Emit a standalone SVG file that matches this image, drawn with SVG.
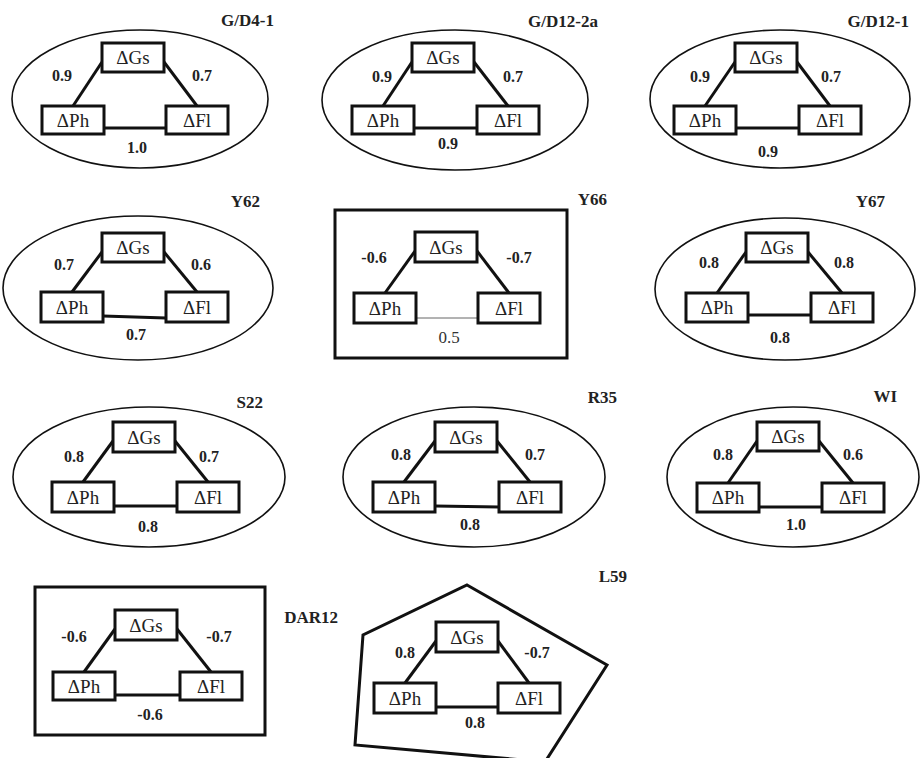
<svg xmlns="http://www.w3.org/2000/svg" width="921" height="758" viewBox="0 0 921 758">
<style>
.bg{fill:#fff}
.ring{fill:none;stroke:#111;stroke-width:1.6}
.frame{fill:none;stroke:#111;stroke-width:3}
.box{fill:#fff;stroke:#111;stroke-width:3}
.bt{font-family:"Liberation Serif",serif;font-size:19px;fill:#222;text-anchor:middle}
.ttl{font-family:"Liberation Serif",serif;font-size:17px;font-weight:bold;fill:#222;text-anchor:end}
.lb{font-family:"Liberation Serif",serif;font-size:16px;font-weight:bold;fill:#222;text-anchor:middle}
.lbn{font-family:"Liberation Serif",serif;font-size:17px;fill:#333;text-anchor:middle}
.e{stroke:#111;stroke-width:3;fill:none}
.thin{stroke:#666;stroke-width:1;fill:none}
</style>
<rect class="bg" x="0" y="0" width="921" height="758"/>

<g id="outlines">
<ellipse class="ring" cx="140" cy="99" rx="128" ry="69"/>
<ellipse class="ring" cx="455" cy="100" rx="133" ry="70"/>
<ellipse class="ring" cx="780" cy="99" rx="130" ry="69"/>
<ellipse class="ring" cx="138" cy="288" rx="135" ry="72"/>
<rect class="frame" x="335" y="210" width="232" height="148"/>
<ellipse class="ring" cx="785" cy="289" rx="130" ry="71"/>
<ellipse class="ring" cx="149" cy="477" rx="136" ry="70"/>
<ellipse class="ring" cx="474" cy="477" rx="131" ry="70"/>
<ellipse class="ring" cx="793" cy="477" rx="126" ry="70"/>
<rect class="frame" x="35" y="587" width="230" height="148"/>
<polygon class="frame" points="467,585 607,665 545,762 355,745 363,635"/>
</g>

<g id="connectors">
<line class="e" x1="102" y1="62" x2="73" y2="106"/><line class="e" x1="164" y1="62" x2="197" y2="106"/><line class="e" x1="104" y1="128" x2="166" y2="128"/>
<line class="e" x1="412" y1="62" x2="383" y2="106"/><line class="e" x1="474" y1="62" x2="508" y2="106"/><line class="e" x1="414" y1="128" x2="477" y2="128"/>
<line class="e" x1="735" y1="62" x2="705" y2="106"/><line class="e" x1="797" y1="62" x2="830" y2="106"/><line class="e" x1="736" y1="128" x2="799" y2="128"/>
<line class="e" x1="102" y1="252" x2="72" y2="292"/><line class="e" x1="164" y1="252" x2="197" y2="292"/><line class="e" x1="103" y1="316" x2="166" y2="318"/>
<line class="e" x1="415" y1="251" x2="385" y2="293"/><line class="e" x1="477" y1="251" x2="509" y2="293"/><line class="thin" x1="416" y1="318" x2="478" y2="318"/>
<line class="e" x1="746" y1="252" x2="717" y2="293"/><line class="e" x1="808" y1="252" x2="842" y2="293"/><line class="e" x1="748" y1="315" x2="811" y2="315"/>
<line class="e" x1="113" y1="441" x2="83" y2="482"/><line class="e" x1="175" y1="441" x2="208" y2="482"/><line class="e" x1="114" y1="506" x2="177" y2="506"/>
<line class="e" x1="435" y1="441" x2="404" y2="482"/><line class="e" x1="497" y1="441" x2="530" y2="482"/><line class="e" x1="435" y1="506" x2="499" y2="507"/>
<line class="e" x1="757" y1="441" x2="728" y2="483"/><line class="e" x1="819" y1="441" x2="853" y2="483"/><line class="e" x1="759" y1="507" x2="822" y2="507"/>
<line class="e" x1="115" y1="629" x2="84" y2="672"/><line class="e" x1="177" y1="629" x2="211" y2="672"/><line class="e" x1="115" y1="695" x2="180" y2="695"/>
<line class="e" x1="436" y1="641" x2="405" y2="683"/><line class="e" x1="498" y1="641" x2="529" y2="683"/><line class="e" x1="436" y1="707" x2="498" y2="707"/>
</g>

<g id="p-gd4-1">
<text class="ttl" x="274" y="26">G/D4-1</text>
<g id="gd41-gs"><rect class="box" x="102" y="43" width="62" height="29"/><text class="bt" x="133" y="64">ΔGs</text></g>
<g id="gd41-ph"><rect class="box" x="42" y="106" width="62" height="28"/><text class="bt" x="73" y="127">ΔPh</text></g>
<g id="gd41-fl"><rect class="box" x="166" y="106" width="62" height="28"/><text class="bt" x="197" y="127">ΔFl</text></g>
<text class="lb" x="62" y="81">0.9</text><text class="lb" x="202" y="81">0.7</text><text class="lb" x="137" y="153">1.0</text>
</g>

<g id="p-gd12-2a">
<text class="ttl" x="598" y="27">G/D12-2a</text>
<g id="gd122a-gs"><rect class="box" x="412" y="43" width="62" height="29"/><text class="bt" x="443" y="64">ΔGs</text></g>
<g id="gd122a-ph"><rect class="box" x="352" y="106" width="62" height="28"/><text class="bt" x="383" y="127">ΔPh</text></g>
<g id="gd122a-fl"><rect class="box" x="477" y="106" width="62" height="28"/><text class="bt" x="508" y="127">ΔFl</text></g>
<text class="lb" x="382" y="82">0.9</text><text class="lb" x="513" y="82">0.7</text><text class="lb" x="448" y="149">0.9</text>
</g>

<g id="p-gd12-1">
<text class="ttl" x="909" y="27">G/D12-1</text>
<g id="gd121-gs"><rect class="box" x="735" y="43" width="62" height="29"/><text class="bt" x="766" y="64">ΔGs</text></g>
<g id="gd121-ph"><rect class="box" x="674" y="106" width="62" height="28"/><text class="bt" x="705" y="127">ΔPh</text></g>
<g id="gd121-fl"><rect class="box" x="799" y="106" width="62" height="28"/><text class="bt" x="830" y="127">ΔFl</text></g>
<text class="lb" x="700" y="82">0.9</text><text class="lb" x="831" y="82">0.7</text><text class="lb" x="768" y="157">0.9</text>
</g>

<g id="p-y62">
<text class="ttl" x="260" y="207">Y62</text>
<g id="y62-gs"><rect class="box" x="102" y="233" width="62" height="29"/><text class="bt" x="133" y="254">ΔGs</text></g>
<g id="y62-ph"><rect class="box" x="41" y="292" width="62" height="30"/><text class="bt" x="72" y="314">ΔPh</text></g>
<g id="y62-fl"><rect class="box" x="166" y="292" width="62" height="30"/><text class="bt" x="197" y="314">ΔFl</text></g>
<text class="lb" x="64" y="270">0.7</text><text class="lb" x="201" y="270">0.6</text><text class="lb" x="136" y="340">0.7</text>
</g>

<g id="p-y66">
<text class="ttl" x="607" y="205">Y66</text>
<g id="y66-gs"><rect class="box" x="415" y="232" width="62" height="30"/><text class="bt" x="446" y="254">ΔGs</text></g>
<g id="y66-ph"><rect class="box" x="354" y="293" width="62" height="30"/><text class="bt" x="385" y="315">ΔPh</text></g>
<g id="y66-fl"><rect class="box" x="478" y="293" width="62" height="30"/><text class="bt" x="509" y="315">ΔFl</text></g>
<text class="lb" x="374" y="263">-0.6</text><text class="lb" x="519" y="263">-0.7</text><text class="lbn" x="449" y="343">0.5</text>
</g>

<g id="p-y67">
<text class="ttl" x="885" y="207">Y67</text>
<g id="y67-gs"><rect class="box" x="746" y="233" width="62" height="29"/><text class="bt" x="777" y="254">ΔGs</text></g>
<g id="y67-ph"><rect class="box" x="686" y="293" width="62" height="29"/><text class="bt" x="717" y="314">ΔPh</text></g>
<g id="y67-fl"><rect class="box" x="811" y="293" width="62" height="29"/><text class="bt" x="842" y="314">ΔFl</text></g>
<text class="lb" x="709" y="268">0.8</text><text class="lb" x="844" y="268">0.8</text><text class="lb" x="780" y="343">0.8</text>
</g>

<g id="p-s22">
<text class="ttl" x="263" y="408">S22</text>
<g id="s22-gs"><rect class="box" x="113" y="422" width="62" height="30"/><text class="bt" x="144" y="444">ΔGs</text></g>
<g id="s22-ph"><rect class="box" x="52" y="482" width="62" height="30"/><text class="bt" x="83" y="504">ΔPh</text></g>
<g id="s22-fl"><rect class="box" x="177" y="482" width="62" height="30"/><text class="bt" x="208" y="504">ΔFl</text></g>
<text class="lb" x="74" y="462">0.8</text><text class="lb" x="209" y="462">0.7</text><text class="lb" x="148" y="532">0.8</text>
</g>

<g id="p-r35">
<text class="ttl" x="617" y="403">R35</text>
<g id="r35-gs"><rect class="box" x="435" y="422" width="62" height="30"/><text class="bt" x="466" y="444">ΔGs</text></g>
<g id="r35-ph"><rect class="box" x="373" y="482" width="62" height="30"/><text class="bt" x="404" y="504">ΔPh</text></g>
<g id="r35-fl"><rect class="box" x="499" y="482" width="62" height="30"/><text class="bt" x="530" y="504">ΔFl</text></g>
<text class="lb" x="401" y="460">0.8</text><text class="lb" x="535" y="460">0.7</text><text class="lb" x="470" y="530">0.8</text>
</g>

<g id="p-wi">
<text class="ttl" x="897" y="402">WI</text>
<g id="wi-gs"><rect class="box" x="757" y="422" width="62" height="29"/><text class="bt" x="788" y="443">ΔGs</text></g>
<g id="wi-ph"><rect class="box" x="697" y="483" width="62" height="29"/><text class="bt" x="728" y="504">ΔPh</text></g>
<g id="wi-fl"><rect class="box" x="822" y="483" width="62" height="29"/><text class="bt" x="853" y="504">ΔFl</text></g>
<text class="lb" x="723" y="460">0.8</text><text class="lb" x="853" y="460">0.6</text><text class="lb" x="796" y="530">1.0</text>
</g>

<g id="p-dar12">
<text class="ttl" x="338" y="623">DAR12</text>
<g id="dar12-gs"><rect class="box" x="115" y="610" width="62" height="30"/><text class="bt" x="146" y="632">ΔGs</text></g>
<g id="dar12-ph"><rect class="box" x="53" y="672" width="62" height="28"/><text class="bt" x="84" y="693">ΔPh</text></g>
<g id="dar12-fl"><rect class="box" x="180" y="672" width="62" height="28"/><text class="bt" x="211" y="693">ΔFl</text></g>
<text class="lb" x="74" y="642">-0.6</text><text class="lb" x="219" y="642">-0.7</text><text class="lb" x="150" y="720">-0.6</text>
</g>

<g id="p-l59">
<text class="ttl" x="627" y="582">L59</text>
<g id="l59-gs"><rect class="box" x="436" y="622" width="62" height="30"/><text class="bt" x="467" y="644">ΔGs</text></g>
<g id="l59-ph"><rect class="box" x="374" y="683" width="62" height="30"/><text class="bt" x="405" y="705">ΔPh</text></g>
<g id="l59-fl"><rect class="box" x="498" y="683" width="62" height="30"/><text class="bt" x="529" y="705">ΔFl</text></g>
<text class="lb" x="405" y="658">0.8</text><text class="lb" x="537" y="658">-0.7</text><text class="lb" x="475" y="728">0.8</text>
</g>
</svg>
